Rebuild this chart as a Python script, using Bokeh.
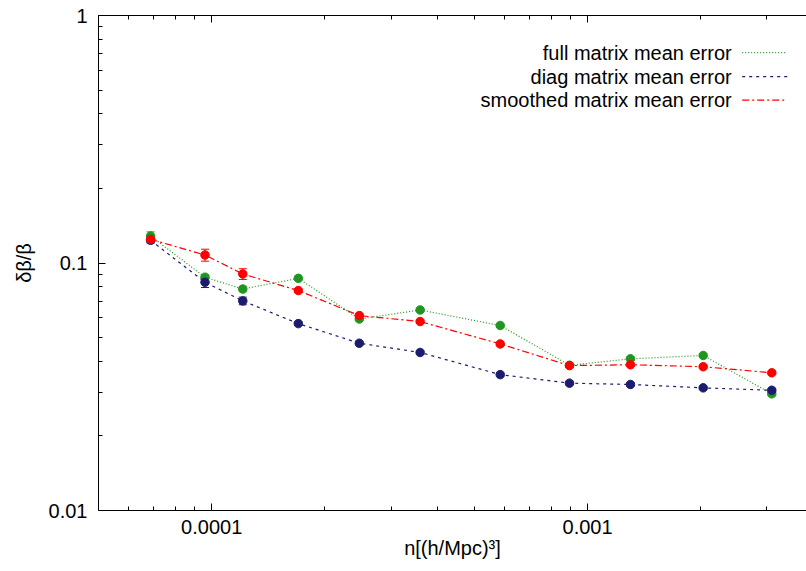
import numpy as np
from bokeh.plotting import figure
from bokeh.models import (LogAxis, FixedTicker, Whisker, TeeHead, ColumnDataSource,
                          Label, Arrow, Range1d, CustomJSTickFormatter)
from bokeh.embed import file_html
from bokeh.resources import INLINE

# ---- data ----
density = [6.88e-5, 9.6e-5, 1.21e-4, 1.70e-4, 2.47e-4, 3.585e-4, 5.855e-4,
           8.95e-4, 1.30e-3, 2.03e-3, 3.09e-3]

full_mean = [0.1285, 0.0876, 0.0785, 0.0867, 0.0594, 0.0646, 0.0559,
             0.0386, 0.0410, 0.0423, 0.0296]
full_sig = [0.005, 0.002, 0.002, 0.0012, 0.001, 0.0008, 0.0008,
            0.0006, 0.0006, 0.0006, 0.0005]

diag_mean = [0.1235, 0.0836, 0.0703, 0.0569, 0.0474, 0.0435, 0.0354,
             0.0327, 0.0323, 0.0313, 0.0306]
diag_sig = [0.003, 0.004, 0.0025, 0.001, 0.0008, 0.0007, 0.0006,
            0.0005, 0.0005, 0.0005, 0.0005]

smooth_mean = [0.1246, 0.1077, 0.0903, 0.0774, 0.0613, 0.0580, 0.0471,
               0.0385, 0.0388, 0.0381, 0.0360]
smooth_sig = [0.004, 0.006, 0.0045, 0.0015, 0.001, 0.0009, 0.0008,
              0.0006, 0.0006, 0.0006, 0.0005]

labels = ["full matrix mean error", "diag matrix mean error", "smoothed matrix mean error"]
x_major = [1e-4, 1e-3]
y_major = [0.01, 0.1, 1.0]

FONT = "Liberation Sans"

p = figure(width=806, height=571, output_backend="svg", toolbar_location=None,
           x_axis_type="log", y_axis_type="log",
           x_range=Range1d(5e-5, 10 ** -2.4177), y_range=Range1d(0.01, 1.0),
           min_border_left=98, min_border_right=0, min_border_top=15, min_border_bottom=61,
           background_fill_color="white", border_fill_color="white")
p.outline_line_color = None
p.grid.visible = False

x_minor = [m * 10.0 ** e for e in (-5, -4, -3) for m in range(2, 10) if 5e-5 <= m * 10.0 ** e <= 5e-3]
y_minor = [m * 10.0 ** e for e in (-2, -1) for m in range(2, 10)]
fmt = CustomJSTickFormatter(code="return String(Number(tick.toPrecision(6)))")

def style_axis(ax):
    ax.axis_line_color = "black"
    ax.axis_line_width = 1
    ax.major_tick_in = 7
    ax.major_tick_out = 0
    ax.minor_tick_in = 4
    ax.minor_tick_out = 0
    ax.major_tick_line_color = "black"
    ax.minor_tick_line_color = "black"
    ax.major_label_text_font = FONT
    ax.major_label_text_font_size = "20px"
    ax.major_label_text_color = "black"
    ax.axis_label_text_font = FONT
    ax.axis_label_text_font_size = "20px"
    ax.axis_label_text_font_style = "normal"
    ax.axis_label_text_color = "black"

xa = p.xaxis[0]
xa.ticker = FixedTicker(ticks=x_major, minor_ticks=x_minor)
xa.formatter = fmt
xa.axis_label = "n[(h/Mpc)³]"
style_axis(xa)
xa.major_label_standoff = 9
xa.axis_label_standoff = 0

ya = p.yaxis[0]
ya.ticker = FixedTicker(ticks=y_major, minor_ticks=y_minor)
ya.formatter = fmt
ya.axis_label = "δβ/β"
style_axis(ya)
ya.major_label_standoff = 11
ya.axis_label_standoff = 11

top = LogAxis(ticker=FixedTicker(ticks=x_major, minor_ticks=x_minor),
              formatter=CustomJSTickFormatter(code='return ""'))
style_axis(top)
top.major_label_text_font_size = "0px"
top.major_label_standoff = 0
p.add_layout(top, "above")

series = [
    (full_mean, full_sig, "#1f961f", "1 2"),
    (diag_mean, diag_sig, "#1c1c6e", "3 4"),
    (smooth_mean, smooth_sig, "#ff0000", "7 3 2 3"),
]

for i, (mean, sig, color, dash) in enumerate(series):
    mean = np.array(mean)
    sig = np.array(sig)
    src = ColumnDataSource(dict(x=density, y=mean, upper=mean + sig, lower=mean - sig))
    p.line("x", "y", source=src, line_color=color, line_width=1.2, line_dash=dash)
    p.add_layout(Whisker(source=src, base="x", upper="upper", lower="lower",
                         line_color=color, line_width=1,
                         upper_head=TeeHead(size=8, line_color=color, line_width=1),
                         lower_head=TeeHead(size=8, line_color=color, line_width=1)))
    p.scatter("x", "y", source=src, marker="circle", size=8.5, fill_color=color,
              line_color=color)

# ---- key (gnuplot style: text right-aligned, sample to the right) ----
frame_left, frame_bottom = 98.3, 510.5
row_y = [52.7, 76.7, 100.2]
for (mean, sig, color, dash), lab, yy in zip(series, labels, row_y):
    sy = frame_bottom - yy
    p.add_layout(Label(x=731.5 - frame_left, y=sy, x_units="screen", y_units="screen",
                       text=lab, text_align="right", text_baseline="middle",
                       text_font=FONT, text_font_size="20px", text_color="black"))
    p.add_layout(Arrow(x_start=742 - frame_left, y_start=sy, x_end=787 - frame_left, y_end=sy,
                       start_units="screen", end_units="screen", start=None, end=None,
                       line_color=color, line_width=1.2, line_dash=dash))

open("out.html", "w").write(file_html(p, INLINE))
